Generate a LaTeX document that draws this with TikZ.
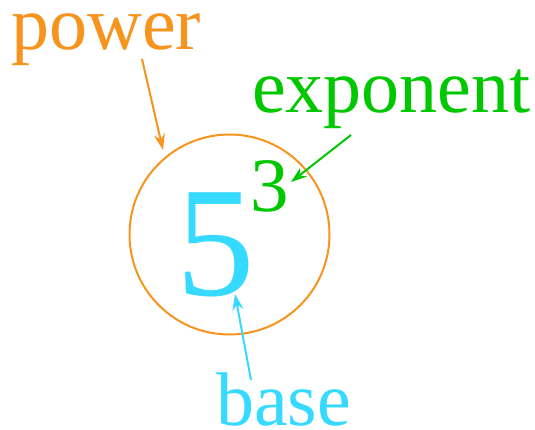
\documentclass[tikz,border=0pt]{standalone}
\usepackage{fontspec}
\setmainfont{Liberation Serif}
\usetikzlibrary{arrows.meta}
\definecolor{pworange}{RGB}{247,148,30}
\definecolor{expgreen}{RGB}{0,200,0}
\definecolor{basecyan}{RGB}{54,217,255}
\tikzset{
  lbl/.style={inner sep=0pt, anchor=base west, text height=0.65em, font=\fontsize{76}{90}\selectfont},
  arr/.style={line width=2pt, -{Stealth[length=16pt,width=11pt]}},
}
\begin{document}
\begin{tikzpicture}[x=1pt,y=-1pt]
\useasboundingbox (0,0) rectangle (535,430);
\node[circle, draw=pworange, line width=2pt, minimum size=200pt, inner sep=0pt] (ring) at (229.5,234.5) {};
\node[lbl, text=pworange] (power) at (11,50) {power};
\node[lbl, text=expgreen] (exponent) at (252,113) {exponent};
\node[lbl, text=basecyan] (base) at (216,425) {base};
\node[inner sep=0pt, anchor=base west, text=basecyan, font=\fontsize{157}{160}\selectfont] (five) at (176,295) {5};
\node[inner sep=0pt, anchor=base west, text=expgreen, font=\fontsize{77}{80}\selectfont] (three) at (250,212) {3};
\coordinate (ps) at (142,59);
\coordinate (pt) at (163,150);
\coordinate (es) at (351,135);
\coordinate (et) at (291,182);
\coordinate (bs) at (251,380);
\coordinate (bt) at (235,294);
\draw[arr, pworange] (ps) -- (pt);
\draw[arr, expgreen] (es) -- (et);
\draw[arr, basecyan] (bs) -- (bt);
\end{tikzpicture}
\end{document}
